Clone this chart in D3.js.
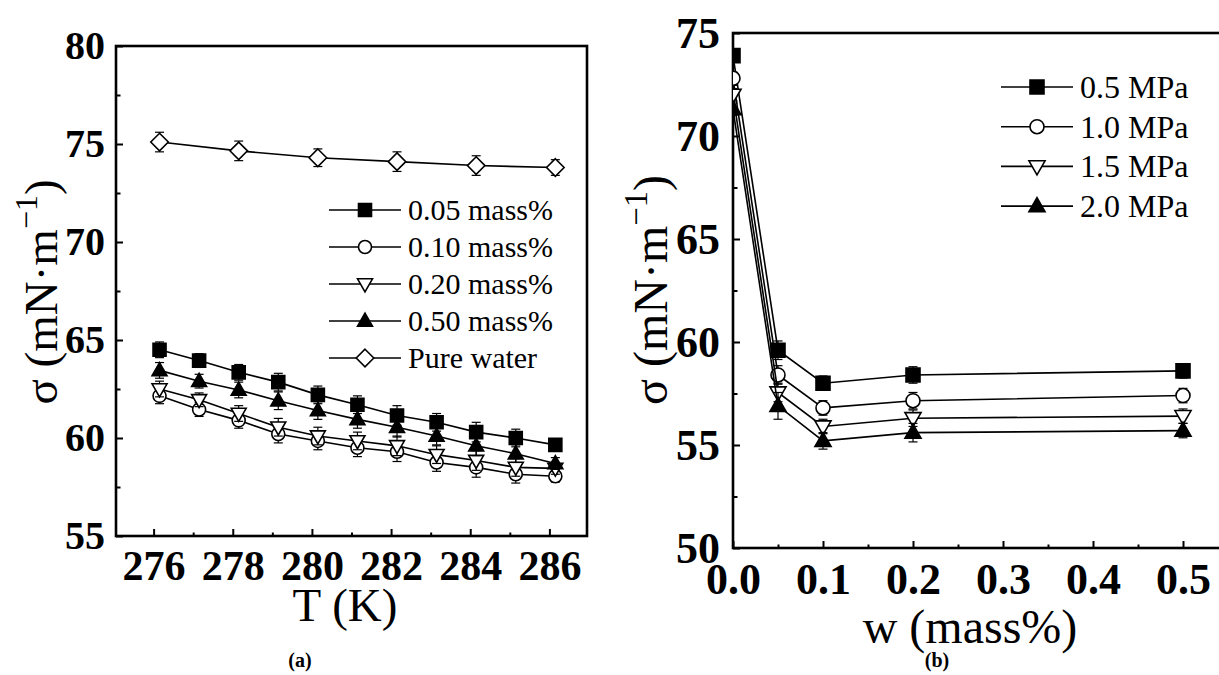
<!DOCTYPE html>
<html>
<head>
<meta charset="utf-8">
<script src="https://cdn.jsdelivr.net/npm/d3@7"></script>
<style>
body { margin: 0; background: #fff; }
svg text { font-family: "Liberation Serif", "Times New Roman", serif; fill: #000; }
</style>
</head>
<body>
<div id="chart"></div>
<script>
// ---- panel (a): sigma vs temperature ----
var tempK = [276.15, 277.15, 278.15, 279.15, 280.15, 281.15, 282.15, 283.15, 284.15, 285.15, 286.15];
var waterT = [276.15, 278.15, 280.15, 282.15, 284.15, 286.15];
var sigmaWater = [75.1, 74.65, 74.3, 74.1, 73.9, 73.8];
var sigma005 = [64.5, 63.95, 63.35, 62.85, 62.2, 61.7, 61.15, 60.8, 60.3, 60.0, 59.65];
var sigma010 = [62.15, 61.45, 60.9, 60.2, 59.85, 59.5, 59.3, 58.75, 58.5, 58.15, 58.05];
var sigma020 = [62.5, 61.95, 61.25, 60.55, 60.1, 59.85, 59.6, 59.15, 58.85, 58.5, 58.45];
var sigma050 = [63.45, 62.9, 62.45, 61.9, 61.4, 60.95, 60.55, 60.1, 59.6, 59.2, 58.7];
var errA = [0.4, 0.35, 0.4, 0.45, 0.45, 0.45, 0.5, 0.45, 0.5, 0.45, 0.3];
var errWater = [0.5, 0.5, 0.45, 0.5, 0.5, 0.4];
var labelsA = ["0.05 mass%", "0.10 mass%", "0.20 mass%", "0.50 mass%", "Pure water"];
var ticksAx = [276, 278, 280, 282, 284, 286];
var ticksAy = [55, 60, 65, 70, 75, 80];

// ---- panel (b): sigma vs mass fraction ----
var massW = [0, 0.05, 0.1, 0.2, 0.5];
var sigma05MPa = [73.9, 59.6, 58.0, 58.4, 58.6];
var sigma10MPa = [72.8, 58.4, 56.8, 57.15, 57.4];
var sigma15MPa = [72.0, 57.55, 55.9, 56.3, 56.4];
var sigma20MPa = [71.3, 56.9, 55.2, 55.6, 55.7];
var errB = [0.3, 0.45, 0.35, 0.4, 0.35];
var errB20 = [0.3, 0.65, 0.4, 0.45, 0.35];
var labelsB = ["0.5 MPa", "1.0 MPa", "1.5 MPa", "2.0 MPa"];
var ticksBx = [0, 0.1, 0.2, 0.3, 0.4, 0.5];
var ticksBy = [50, 55, 60, 65, 70, 75];

var svg = d3.select("#chart").append("svg")
    .attr("width", 1219)
    .attr("height", 675);

// marker shapes, s = half size
function markerPath(type, s) {
    if (type == "square") return "M" + (-s) + "," + (-s) + "h" + 2 * s + "v" + 2 * s + "h" + (-2 * s) + "Z";
    if (type == "circle") return "M" + (-s) + ",0a" + s + "," + s + " 0 1,0 " + 2 * s + ",0a" + s + "," + s + " 0 1,0 " + (-2 * s) + ",0Z";
    if (type == "up") return "M0," + (-1.2 * s) + "L" + 1.15 * s + "," + 0.8 * s + "L" + (-1.15 * s) + "," + 0.8 * s + "Z";
    if (type == "down") return "M0," + 1.2 * s + "L" + 1.15 * s + "," + (-0.8 * s) + "L" + (-1.15 * s) + "," + (-0.8 * s) + "Z";
    if (type == "diamond") { var d = s * 1.35; return "M0," + (-d) + "L" + d + ",0L0," + d + "L" + (-d) + ",0Z"; }
}
function isFilled(type) { return type == "square" || type == "up"; }

function drawSeries(g, xs, ys, es, type, x, y, s) {
    var pts = xs.map(function (v, i) { return [x(v), y(ys[i]), es[i], ys[i]]; });
    g.append("path")
        .attr("d", d3.line()(pts.map(function (p) { return [p[0], p[1]]; })))
        .attr("fill", "none").attr("stroke", "#000").attr("stroke-width", 1.6);
    pts.forEach(function (p) {
        var y1 = y(p[3] - p[2]), y2 = y(p[3] + p[2]);
        g.append("line").attr("x1", p[0]).attr("x2", p[0]).attr("y1", y1).attr("y2", y2)
            .attr("stroke", "#000").attr("stroke-width", 1.2);
        [y1, y2].forEach(function (yy) {
            g.append("line").attr("x1", p[0] - 4.5).attr("x2", p[0] + 4.5).attr("y1", yy).attr("y2", yy)
                .attr("stroke", "#000").attr("stroke-width", 1.2);
        });
    });
    g.selectAll(null).data(pts).enter().append("path")
        .attr("d", markerPath(type, s))
        .attr("transform", function (p) { return "translate(" + p[0] + "," + p[1] + ")"; })
        .attr("fill", isFilled(type) ? "#000" : "#fff")
        .attr("stroke", "#000").attr("stroke-width", 1.6);
}

function styleAxis(g, size) {
    g.attr("font-family", null);
    g.select(".domain").remove();
    g.selectAll(".tick line").attr("stroke-width", 2);
    g.selectAll("text").attr("font-size", size).attr("font-weight", "bold");
}

function drawLegend(g, labels, types, x0, y0, step, fs, s) {
    labels.forEach(function (lab, i) {
        var yy = y0 + i * step;
        g.append("line").attr("x1", x0).attr("x2", x0 + 72).attr("y1", yy).attr("y2", yy)
            .attr("stroke", "#000").attr("stroke-width", 1.6);
        g.append("path").attr("d", markerPath(types[i], s))
            .attr("transform", "translate(" + (x0 + 36) + "," + yy + ")")
            .attr("fill", isFilled(types[i]) ? "#000" : "#fff")
            .attr("stroke", "#000").attr("stroke-width", 1.6);
        g.append("text").attr("x", x0 + 79).attr("y", yy + fs * 0.34)
            .attr("font-size", fs).text(lab);
    });
}

function yTitle(g, cx, cy, fs) {
    var t = g.append("text")
        .attr("transform", "translate(" + cx + "," + cy + ") rotate(-90)")
        .attr("text-anchor", "middle").attr("font-size", fs);
    t.append("tspan").text("\u03c3 (mN\u00b7m");
    t.append("tspan").attr("font-size", fs * 0.68).attr("dy", -fs * 0.42).text("\u22121");
    t.append("tspan").attr("dy", fs * 0.42).text(")");
}

// ================= panel (a) =================
var xA = d3.scaleLinear().domain([275.05, 286.95]).range([116, 587]);
var yA = d3.scaleLinear().domain([55, 80]).range([536, 46]);

var gA = svg.append("g");
gA.append("g").attr("transform", "translate(0,536)")
    .call(d3.axisBottom(xA).tickValues(d3.range(277, 287, 2)).tickSizeInner(-3.5).tickSizeOuter(0).tickFormat(""))
    .call(styleAxis, 40);
gA.append("g").attr("transform", "translate(0,536)")
    .call(d3.axisBottom(xA).tickValues(ticksAx).tickSizeInner(-7).tickSizeOuter(0).tickPadding(14).tickFormat(d3.format("d")))
    .call(styleAxis, 42);
gA.append("g").attr("transform", "translate(116,0)")
    .call(d3.axisLeft(yA).tickValues([57.5, 62.5, 67.5, 72.5, 77.5]).tickSizeInner(-4.5).tickSizeOuter(0).tickFormat(""))
    .call(styleAxis, 40);
gA.append("g").attr("transform", "translate(116,0)")
    .call(d3.axisLeft(yA).tickValues(ticksAy).tickSizeInner(-7).tickSizeOuter(0).tickPadding(11))
    .call(styleAxis, 40);
gA.append("rect").attr("x", 116).attr("y", 46).attr("width", 471).attr("height", 490)
    .attr("fill", "none").attr("stroke", "#000").attr("stroke-width", 2.6);

var seriesA = [sigma005, sigma010, sigma020, sigma050];
var typesA = ["square", "circle", "down", "up", "diamond"];
seriesA.forEach(function (ys, i) { drawSeries(gA, tempK, ys, errA, typesA[i], xA, yA, 6.5); });
drawSeries(gA, waterT, sigmaWater, errWater, "diamond", xA, yA, 6.5);

drawLegend(gA, labelsA, typesA, 329, 210, 37, 30, 6.5);

gA.append("text").attr("x", 345).attr("y", 621).attr("text-anchor", "middle")
    .attr("font-size", 47).text("T (K)");
yTitle(gA, 57, 292, 47);
gA.append("text").attr("x", 300).attr("y", 667).attr("text-anchor", "middle")
    .attr("font-size", 20).attr("font-weight", "bold").text("(a)");

// ================= panel (b) =================
var xB = d3.scaleLinear().domain([0, 0.55]).range([733, 1228]);
var yB = d3.scaleLinear().domain([50, 75]).range([548, 33]);

var gB = svg.append("g");
svg.append("clipPath").attr("id", "clipB").append("rect")
    .attr("x", 733).attr("y", 33).attr("width", 495).attr("height", 515);

gB.append("g").attr("transform", "translate(0,548)")
    .call(d3.axisBottom(xB).tickValues([0.05, 0.15, 0.25, 0.35, 0.45]).tickSizeInner(-3.5).tickSizeOuter(0).tickFormat(""))
    .call(styleAxis, 44);
gB.append("g").attr("transform", "translate(0,548)")
    .call(d3.axisBottom(xB).tickValues(ticksBx).tickSizeInner(-7).tickSizeOuter(0).tickPadding(15).tickFormat(d3.format(".1f")))
    .call(styleAxis, 44);
gB.append("g").attr("transform", "translate(733,0)")
    .call(d3.axisLeft(yB).tickValues([52.5, 57.5, 62.5, 67.5, 72.5]).tickSizeInner(-4.5).tickSizeOuter(0).tickFormat(""))
    .call(styleAxis, 44);
gB.append("g").attr("transform", "translate(733,0)")
    .call(d3.axisLeft(yB).tickValues(ticksBy).tickSizeInner(-7).tickSizeOuter(0).tickPadding(13))
    .call(styleAxis, 44);
gB.append("rect").attr("x", 733).attr("y", 33).attr("width", 495).attr("height", 515)
    .attr("fill", "none").attr("stroke", "#000").attr("stroke-width", 2.6);

var plotB = gB.append("g").attr("clip-path", "url(#clipB)");
var seriesB = [sigma05MPa, sigma10MPa, sigma15MPa, sigma20MPa];
var typesB = ["square", "circle", "down", "up"];
var errsB = [errB, errB, errB, errB20];
seriesB.forEach(function (ys, i) { drawSeries(plotB, massW, ys, errsB[i], typesB[i], xB, yB, 7); });

drawLegend(gB, labelsB, typesB, 1001, 87, 39.7, 32, 7);

gB.append("text").attr("x", 970).attr("y", 643).attr("text-anchor", "middle")
    .attr("font-size", 48).text("w (mass%)");
yTitle(gB, 667, 290, 48);
gB.append("text").attr("x", 937).attr("y", 667).attr("text-anchor", "middle")
    .attr("font-size", 20).attr("font-weight", "bold").text("(b)");
</script>
</body>
</html>
